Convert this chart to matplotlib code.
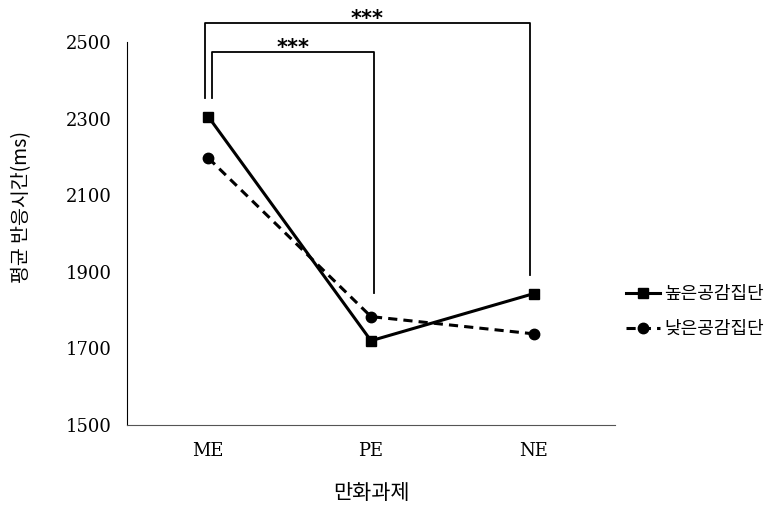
import matplotlib.pyplot as plt

plt.rcParams['font.family'] = ['DejaVu Serif', 'Noto Sans CJK KR']

tasks = ['ME', 'PE', 'NE']
high_group = [2305, 1720, 1843]
low_group = [2197, 1783, 1738]
series_labels = ['높은공감집단', '낮은공감집단']
y_ticks = [1500, 1700, 1900, 2100, 2300, 2500]

fig = plt.figure(figsize=(7.83, 5.05), dpi=100)
ax = fig.add_axes([127 / 783, 80 / 505, 488 / 783, 383 / 505])

x = range(len(tasks))
ax.plot(x, high_group, color='black', lw=2.2, marker='s', ms=7.5, label=series_labels[0])
ax.plot(x, low_group, color='black', lw=2.2, ls=(0, (3, 2)), marker='o', ms=7.5, label=series_labels[1])

ax.set_xlim(-0.5, 2.5)
ax.set_ylim(1500, 2500)
ax.set_xticks(list(x))
ax.set_xticklabels(tasks, fontsize=13)
ax.set_yticks(y_ticks)
ax.tick_params(axis='y', labelsize=13, length=0, pad=11)
ax.tick_params(axis='x', length=0, pad=12)
for s in ['top', 'right']:
    ax.spines[s].set_visible(False)
ax.spines['left'].set_color('black')
ax.spines['bottom'].set_color('#555555')

ax.set_ylabel('평균 반응시간(ms)', fontsize=14, family=['Noto Sans CJK KR', 'DejaVu Serif'])
ax.yaxis.set_label_coords(-0.195, 0.57)
ax.set_xlabel('만화과제', fontsize=15, family=['Noto Sans CJK KR', 'DejaVu Serif'], labelpad=16)

# significance brackets
def bracket(x0, x1, y_left, y_right, top, text):
    ax.plot([x0, x0, x1, x1], [y_left, top, top, y_right], color='black', lw=1.3,
            clip_on=False)
    ax.text((x0 + x1) / 2, top - 6, text, ha='center', va='baseline', fontsize=15,
            family='DejaVu Sans', fontweight='bold', clip_on=False)

bracket(-0.02, 1.975, 2354, 1892, 2550, '***')
bracket(0.025, 1.02, 2354, 1845, 2474, '***')

ax.legend(loc='center left', bbox_to_anchor=(1.022, 0.296), frameon=False,
          prop={'family': ['Noto Sans CJK KR'], 'size': 13},
          handlelength=1.9, handletextpad=0.25, labelspacing=0.95,
          borderaxespad=0, borderpad=0)

fig.savefig('out.png', dpi=100)
